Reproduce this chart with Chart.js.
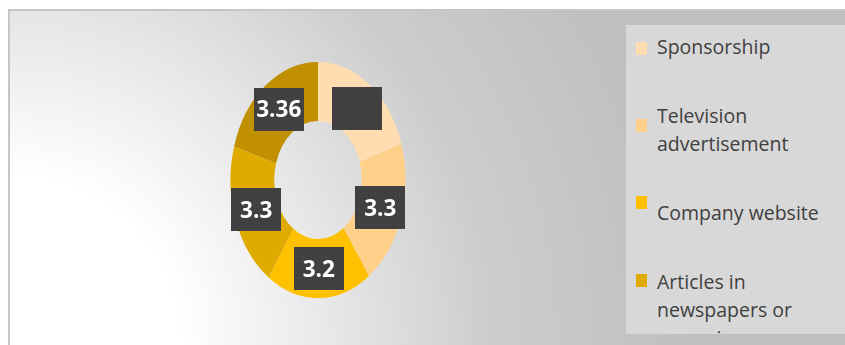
<!DOCTYPE html>
<html>
<head>
<meta charset="utf-8">
<script src="https://cdn.jsdelivr.net/npm/chart.js@4.4.1/dist/chart.umd.min.js"></script>
<style>
  html, body { margin: 0; padding: 0; background: #fff; }
  body { width: 845px; height: 345px; overflow: hidden; position: relative; font-family: "Open Sans", sans-serif; }
  #frame {
    position: absolute; left: 8px; top: 9px; width: 837px; height: 345px;
    border-left: 2px solid #c6c6c6; border-top: 2px solid #c6c6c6;
    background: radial-gradient(circle 680px at 0px 336px, #ffffff 0px, #ffffff 170px, #e6e6e6 330px, #cdcdcd 480px, #bfbfbf 680px);
  }
  #chart-wrap { position: absolute; left: 0; top: 0; width: 845px; height: 345px; }
  #legend {
    position: absolute; left: 626px; top: 25px; width: 219px; height: 309px; overflow: hidden;
    background-color: #d9d9d9;
    background-image: repeating-conic-gradient(#d1d1d1 0 25%, #dfdfdf 0 50%);
    background-size: 2px 2px;
  }
  .legend-box { position: absolute; left: 10px; width: 11px; height: 13px; }
  .legend-text { position: absolute; left: 31px; width: 172px; font-size: 19.5px; line-height: 28px; color: #404040; }
</style>
</head>
<body>
<div id="frame"></div>
<div id="chart-wrap"><canvas id="donut"></canvas></div>
<div id="legend"></div>

<script>
const categories = ["Sponsorship", "Television advertisement", "Company website", "Articles in newspapers or magazines", "Social media"];
const ratings = [3.3, 3.3, 3.2, 3.3, 3.36];
const dataLabels = ["", "3.3", "3.2", "3.3", "3.36"];
const sliceColors = ["#FFDDB0", "#FFD08A", "#FFC000", "#E0AB00", "#C09000"];

// vertical stretch of the ring (the original is an ellipse)
const stretchY = 1.35;

const legendEl = document.getElementById("legend");
const legendBoxTop = [17, 94, 171, 249];
const legendTextTop = [8, 77, 174, 243];

const ellipsePlugin = {
  id: "ellipse",
  beforeDatasetsDraw(chart) {
    const arc = chart.getDatasetMeta(0).data[0];
    const ctx = chart.ctx;
    ctx.save();
    ctx.translate(arc.x, arc.y);
    ctx.scale(1, stretchY);
    ctx.translate(-arc.x, -arc.y);
  },
  afterDatasetsDraw(chart) {
    chart.ctx.restore();
  }
};

const boxLabelPlugin = {
  id: "boxLabels",
  afterDraw(chart) {
    const ctx = chart.ctx;
    const arcs = chart.getDatasetMeta(0).data;
    arcs.forEach((arc, i) => {
      const p = arc.tooltipPosition();
      const x = p.x;
      const y = arc.y + (p.y - arc.y) * stretchY;
      const bx = Math.round(x - 25), by = Math.round(y - 21.5);
      ctx.save();
      ctx.fillStyle = "#404040";
      ctx.fillRect(bx, by, 50, 43);
      // faint dotted texture like the original label fill
      ctx.fillStyle = "#4a4a4a";
      for (let yy = by + 2; yy < by + 43; yy += 4) {
        for (let xx = bx + 2 + ((yy - by) % 8 ? 2 : 0); xx < bx + 50; xx += 4) {
          ctx.fillRect(xx, yy, 1, 1);
        }
      }
      ctx.fillStyle = "#ffffff";
      ctx.font = "bold 22.5px 'Open Sans', sans-serif";
      ctx.textAlign = "center";
      ctx.textBaseline = "middle";
      ctx.fillText(dataLabels[i], x, y + 2);
      ctx.restore();
    });
  }
};

const chart = new Chart(document.getElementById("donut"), {
  type: "doughnut",
  data: {
    labels: categories,
    datasets: [{
      data: ratings,
      backgroundColor: sliceColors,
      borderWidth: 0
    }]
  },
  options: {
    responsive: true,
    maintainAspectRatio: false,
    animation: false,
    cutout: "50%",
    layout: { padding: { left: 230.5, right: 439.5, top: 92.5, bottom: 77.5 } },
    plugins: {
      legend: { display: false },
      tooltip: { enabled: false }
    }
  },
  plugins: [ellipsePlugin, boxLabelPlugin]
});

// legend on the right, built from the chart's own labels and colours
chart.data.labels.forEach((label, i) => {
  if (i >= legendBoxTop.length) return;
  const box = document.createElement("div");
  box.className = "legend-box";
  box.style.top = legendBoxTop[i] + "px";
  box.style.background = chart.data.datasets[0].backgroundColor[i];
  legendEl.appendChild(box);

  const txt = document.createElement("div");
  txt.className = "legend-text";
  txt.style.top = legendTextTop[i] + "px";
  txt.textContent = label;
  legendEl.appendChild(txt);
});
</script>
</body>
</html>
